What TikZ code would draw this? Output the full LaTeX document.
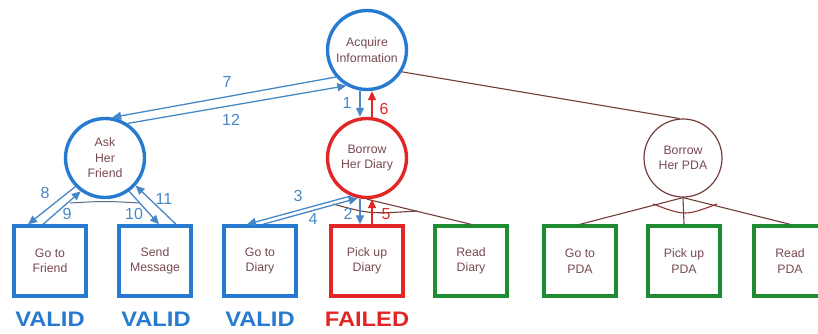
\documentclass[tikz,border=0pt]{standalone}
\usepackage{fontspec}
\setmainfont{Liberation Sans}
\usetikzlibrary{calc,arrows.meta}
\definecolor{cblue}{RGB}{38,122,208}
\definecolor{ablue}{RGB}{70,135,200}
\definecolor{cred}{RGB}{226,38,38}
\definecolor{cgreen}{RGB}{30,140,50}
\definecolor{cbrown}{RGB}{115,62,58}
\definecolor{andred}{RGB}{150,50,50}
\definecolor{ntext}{RGB}{120,72,80}
\definecolor{andblue}{RGB}{90,105,135}
\begin{document}
\begin{tikzpicture}[x=1pt,y=-1pt,
 txt/.style={font=\fontsize{12.3}{15.5}\selectfont, text=ntext, align=center},
 goal/.style={circle, draw, line width=3.4pt, minimum size=79pt, inner sep=0pt, txt},
 act/.style={rectangle, draw, line width=3.4pt, minimum width=72pt, minimum height=70pt, inner sep=0pt, txt},
 arr/.style={draw=ablue, line width=1.3pt, -{Triangle[length=9pt,width=8pt]}},
 rarr/.style={draw=cred, line width=1.3pt, -{Triangle[length=9pt,width=8pt]}},
 num/.style={font=\fontsize{16}{16}\selectfont, text=ablue, inner sep=0pt},
 rnum/.style={num, text=cred},
 tree/.style={draw=cbrown, line width=1.1pt},
 stat/.style={font=\bfseries\fontsize{21}{21}\selectfont, xscale=1.13, inner sep=0pt},
]
\useasboundingbox (0,0) rectangle (818,333);

% goals
\node[goal, draw=cblue] (acq) at (367,50) {Acquire\\Information};
\node[goal, draw=cblue] (ask) at (105,158) {Ask\\Her\\Friend};
\node[goal, draw=cred] (diary) at (367,158) {Borrow\\Her Diary};
\node[goal, draw=cbrown, line width=1.2pt, minimum size=78pt] (pda) at (683,158) {Borrow\\Her PDA};

% actions
\node[act, draw=cblue] (gf) at (50,261) {Go to\\Friend};
\node[act, draw=cblue] (sm) at (155,261) {Send\\Message};
\node[act, draw=cblue] (gtd) at (260,261) {Go to\\Diary};
\node[act, draw=cred] (pud) at (367,261) {Pick up\\Diary};
\node[act, draw=cgreen] (rd) at (471,261) {Read\\Diary};
\node[act, draw=cgreen] (gtp) at (580,261) {Go to\\PDA};
\node[act, draw=cgreen] (pup) at (684,261) {Pick up\\PDA};
\node[act, draw=cgreen] (rp) at (790,261) {Read\\PDA};

% status
\node[stat, text=cblue] (s1) at (50,319) {VALID};
\node[stat, text=cblue] (s2) at (156,319) {VALID};
\node[stat, text=cblue] (s3) at (260,319) {VALID};
\node[stat, text=cred] (s4) at (367,319) {FAILED};

% tree edges
\draw[tree] (acq.-32) -- (pda.95);
\draw[tree] (diary.south) -- (rd.north);
\draw[tree] (pda.south) -- (gtp.north);
\draw[tree] (pda.south) -- (pup.north);
\draw[tree] (pda.south) -- (rp.north);
\draw[tree] ($(diary)+(-34,46)$) .. controls ($(diary)+(3,56)$) .. ($(diary)+(50,53)$);
\draw[draw=andblue, line width=1pt] ($(ask)+(-35,45)$) .. controls ($(ask)+(0,43)$) .. ($(ask)+(34,45)$);
\draw[draw=andred, line width=1.1pt] ($(pda)+(-30,46)$) .. controls ($(pda)+(2,58)$) .. ($(pda)+(34,46)$);

% execution arrows
\draw[arr] (acq.221) -- (ask.80);
\draw[arr] (ask.57) -- (acq.240);
\draw[arr] ($(acq.south)+(-7,0)$) -- ($(diary.north)+(-7,0)$);
\draw[rarr] ($(diary.north)+(5,0)$) -- ($(acq.south)+(5,0)$);
\draw[arr] ($(diary.south)+(-7,0)$) -- ($(pud.north)+(-7,0)$);
\draw[rarr] ($(pud.north)+(5,0)$) -- ($(diary.south)+(5,0)$);
\draw[arr] (diary.247) -- ($(gtd.north)+(-13,0)$);
\draw[arr] ($(gtd.north)+(3,0)$) -- (diary.257);
\draw[arr] (ask.224) -- ($(gf.north)+(-22,0)$);
\draw[arr] ($(gf.north)+(-7,0)$) -- (ask.234);
\draw[arr] (ask.306) -- ($(sm.north)+(4,0)$);
\draw[arr] ($(sm.north)+(21,0)$) -- (ask.318);

% step numbers
\node[num] (n7) at (227,82) {7};
\node[num] (n12) at (231,120) {12};
\node[num] (n1) at (347,103) {1};
\node[rnum] (n6) at (384,109) {6};
\node[num] (n8) at (45,193) {8};
\node[num] (n9) at (67,214) {9};
\node[num] (n10) at (134,214) {10};
\node[num] (n11) at (164,199) {11};
\node[num] (n3) at (298,196) {3};
\node[num] (n4) at (313,219) {4};
\node[num] (n2) at (348,214) {2};
\node[rnum] (n5) at (386,214) {5};
\end{tikzpicture}
\end{document}
